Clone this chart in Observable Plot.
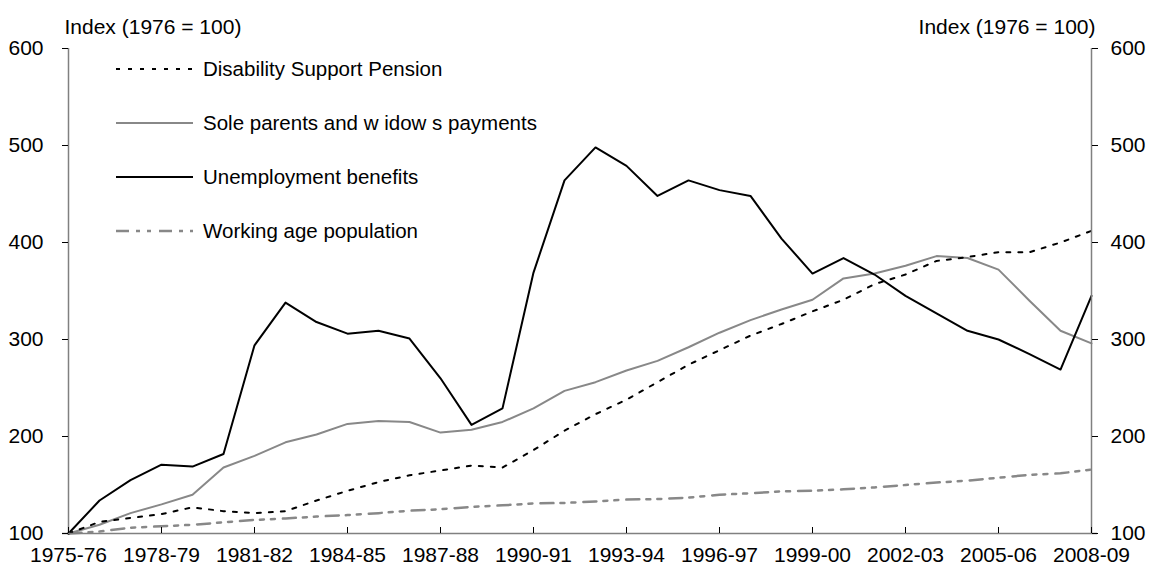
<!DOCTYPE html>
<html><head><meta charset="utf-8">
<script src="https://cdn.jsdelivr.net/npm/d3@7"></script>
<script src="https://cdn.jsdelivr.net/npm/@observablehq/plot@0.6"></script>
<style>
body{margin:0;background:#fff;font-family:"Liberation Sans",Arial,sans-serif;}
#wrap{position:relative;width:1157px;height:576px;}
#legend{position:absolute;left:116px;top:42px;}
.row{display:flex;align-items:center;height:54px;font-size:20.5px;color:#000;white-space:pre;}
.row svg{margin-right:10px;display:block;}
</style></head><body>
<div id="wrap"><div id="chart"></div><div id="legend"></div></div>
<script>
const years = ["1975-76","1976-77","1977-78","1978-79","1979-80","1980-81","1981-82","1982-83","1983-84","1984-85","1985-86","1986-87","1987-88","1988-89","1989-90","1990-91","1991-92","1992-93","1993-94","1994-95","1995-96","1996-97","1997-98","1998-99","1999-00","2000-01","2001-02","2002-03","2003-04","2004-05","2005-06","2006-07","2007-08","2008-09"];
const xTickLabels = ["1975-76","1978-79","1981-82","1984-85","1987-88","1990-91","1993-94","1996-97","1999-00","2002-03","2005-06","2008-09"];
const yTicks = [100, 200, 300, 400, 500, 600];

const disabilitySupportPension = [100,112,116,120,127,123,121,123,134,144,153,160,165,170,168,186,206,223,238,256,274,289,304,316,329,341,357,367,381,385,390,390,400,412];
const soleParentsWidows = [100,109,121,130,140,168,180,194,202,213,216,215,204,207,215,229,247,256,268,278,292,307,320,331,341,363,368,376,386,384,372,340,309,296];
const unemploymentBenefits = [100,134,155,171,169,182,294,338,318,306,309,301,260,212,229,369,464,498,479,448,464,454,448,404,368,384,367,345,327,309,300,285,269,345];
const workingAgePopulation = [100,102,106,107.5,109,111.5,114,115.5,117.5,119,121,123.5,125,127.5,129,131,131.5,133,135,135.5,137,140,141.5,143.5,144,145.5,147.5,150,152.5,154.5,157.5,160.5,162,166];

const seriesNames = ["Disability Support Pension", "Sole parents and w idow s payments", "Unemployment benefits", "Working age population"];
const titleText = "Index (1976 = 100)";

const styles = {
  "Disability Support Pension": {stroke: "#000", strokeWidth: 2, dash: "4,8"},
  "Sole parents and w idow s payments": {stroke: "#888", strokeWidth: 2, dash: null},
  "Unemployment benefits": {stroke: "#000", strokeWidth: 2, dash: null},
  "Working age population": {stroke: "#888", strokeWidth: 2.5, dash: "13,7,4,7,4,8"}
};

const seriesValues = [disabilitySupportPension, soleParentsWidows, unemploymentBenefits, workingAgePopulation];
const table = [];
seriesNames.forEach((name, s) => seriesValues[s].forEach((v, i) => table.push({series: name, year: years[i], value: v})));

const drawOrder = ["Working age population", "Sole parents and w idow s payments", "Unemployment benefits", "Disability Support Pension"];

const lineMarks = drawOrder.map(name => Plot.line(table.filter(d => d.series === name), {
  x: "year", y: "value",
  stroke: styles[name].stroke,
  strokeWidth: styles[name].strokeWidth,
  strokeDasharray: styles[name].dash,
  strokeLinejoin: "round"
}));

const chart = Plot.plot({
  width: 1157,
  height: 576,
  marginLeft: 62,
  marginRight: 60,
  marginTop: 48,
  marginBottom: 43,
  style: {fontFamily: "'Liberation Sans', Arial, sans-serif", fontSize: "21px", color: "#000", background: "#fff"},
  x: {type: "point", domain: years, padding: 0},
  y: {domain: [100, 600]},
  marks: [
    ...lineMarks,
    Plot.ruleY([100], {stroke: "#808080", strokeWidth: 1.5}),
    Plot.ruleX([years[0], years[years.length - 1]], {stroke: "#808080", strokeWidth: 1.5}),
    Plot.axisY({anchor: "left", ticks: yTicks, tickSize: -6, tickPadding: 25, fontSize: 21, label: null}),
    Plot.axisY({anchor: "right", ticks: yTicks, tickSize: -6, tickPadding: 19, fontSize: 21, label: null}),
    Plot.axisX({ticks: xTickLabels, tickSize: -6, tickPadding: 20, fontSize: 21, label: null}),
    Plot.text([titleText], {text: d => d, frameAnchor: "top-left", textAnchor: "start", dx: 2, dy: -29, fontSize: 21}),
    Plot.text([titleText], {text: d => d, frameAnchor: "top-right", textAnchor: "end", dx: -2, dy: -29, fontSize: 21})
  ]
});
document.getElementById("chart").appendChild(chart);

const legend = document.getElementById("legend");
seriesNames.forEach(name => {
  const st = styles[name];
  const row = document.createElement("div");
  row.className = "row";
  row.innerHTML = `<svg width="77" height="6"><line x1="0" x2="77" y1="3" y2="3" stroke="${st.stroke}" stroke-width="${st.strokeWidth}" ${st.dash ? `stroke-dasharray="${st.dash}"` : ""}/></svg><span>${name}</span>`;
  legend.appendChild(row);
});
</script>
</body></html>
